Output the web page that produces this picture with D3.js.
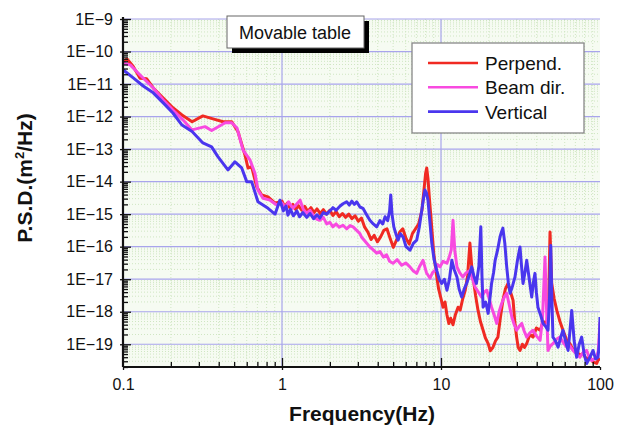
<!DOCTYPE html>
<html>
<head>
<meta charset="utf-8">
<script src="https://cdn.jsdelivr.net/npm/d3@7"></script>
<style>
  body { margin: 0; background: #fff; }
  svg text { font-family: "Liberation Sans", Arial, sans-serif; fill: #111; }
</style>
</head>
<body>
<div id="chart"></div>
<script>
// Chart params
var svgWidth = 627;
var svgHeight = 429;

var margin = { top: 19, right: 27, bottom: 62, left: 123 };
var width = svgWidth - margin.left - margin.right;
var height = svgHeight - margin.top - margin.bottom;

// Data: [frequency (Hz), log10 PSD (m^2/Hz)]
var perpData = [
  [0.100, -10.31], [0.106, -10.23], [0.116, -10.46], [0.128, -10.82], [0.141, -10.84], [0.155, -11.12], [0.179, -11.43],
  [0.206, -11.73], [0.235, -11.95], [0.272, -12.16], [0.318, -11.98], [0.368, -12.07], [0.426, -12.16], [0.483, -12.16],
  [0.528, -12.46], [0.585, -13.18], [0.611, -13.58], [0.644, -13.54], [0.693, -14.16], [0.745, -14.41], [0.817, -14.47],
  [0.904, -14.66], [1.00, -14.60], [1.04, -14.78], [1.08, -14.66], [1.12, -14.80], [1.17, -14.70], [1.22, -14.86],
  [1.27, -14.74], [1.33, -14.88], [1.39, -14.76], [1.45, -14.92], [1.52, -14.80], [1.59, -14.95], [1.66, -14.84],
  [1.74, -14.98], [1.82, -14.86], [1.90, -15.00], [2.00, -14.88], [2.09, -15.04], [2.19, -14.92], [2.29, -15.08],
  [2.40, -14.98], [2.51, -15.10], [2.63, -15.00], [2.75, -15.14], [2.88, -15.05], [3.02, -15.22], [3.16, -15.12],
  [3.31, -15.40], [3.47, -15.55], [3.63, -15.78], [3.80, -15.65], [3.98, -15.85], [4.17, -15.70], [4.37, -15.50],
  [4.57, -15.45], [4.79, -15.75], [5.01, -16.02], [5.25, -15.80], [5.50, -15.55], [5.75, -15.45], [6.03, -15.75],
  [6.31, -15.92], [6.61, -15.60], [6.92, -15.45], [7.24, -15.30], [7.59, -14.88], [7.80, -14.30], [8.00, -13.75],
  [8.13, -13.58], [8.28, -13.90], [8.45, -14.50], [8.71, -15.30], [9.00, -16.20], [9.33, -16.80], [9.66, -17.30],
  [10.0, -17.60], [10.3, -17.86], [10.6, -17.70], [10.9, -18.10], [11.2, -18.36], [11.5, -18.20], [11.9, -18.40],
  [12.3, -18.10], [12.8, -17.86], [13.2, -17.95], [13.7, -17.60], [14.2, -17.34], [14.7, -16.90], [15.2, -15.89],
  [15.6, -16.60], [15.9, -16.93], [16.5, -17.50], [17.1, -17.96], [17.7, -18.30], [18.4, -18.57], [19.0, -18.80],
  [19.8, -18.98], [20.4, -19.20], [21.2, -19.10], [22.0, -18.90], [22.8, -18.78], [23.6, -18.20], [24.5, -17.65],
  [25.4, -17.30], [26.4, -17.13], [27.4, -17.40], [28.4, -17.65], [29.1, -18.30], [29.9, -18.78], [30.6, -19.10],
  [31.4, -19.19], [32.5, -19.00], [33.5, -19.10], [34.6, -18.98], [36.2, -18.70], [37.9, -18.78], [39.8, -18.50],
  [42.0, -18.57], [44.0, -18.30], [46.2, -18.36], [47.5, -17.80], [48.5, -15.55], [49.7, -17.13], [51.5, -17.60],
  [53.5, -17.96], [56.0, -18.30], [58.5, -18.57], [61.5, -18.85], [64.7, -18.98], [67.5, -19.15], [71.3, -19.19],
  [74.5, -19.35], [78.2, -19.28], [82.0, -19.45], [86.5, -19.40], [90.5, -19.55], [95.3, -19.59], [98.0, -19.45],
  [100, -19.50]
];

var beamData = [
  [0.100, -10.35], [0.111, -10.41], [0.128, -10.72], [0.155, -11.12], [0.179, -11.49], [0.206, -11.80], [0.238, -12.10],
  [0.272, -12.41], [0.328, -12.31], [0.361, -12.43], [0.395, -12.32], [0.439, -12.19], [0.483, -12.19], [0.521, -12.35],
  [0.569, -13.03], [0.630, -13.34], [0.676, -13.74], [0.706, -14.26], [0.760, -14.51], [0.841, -14.57], [0.927, -14.72],
  [1.00, -14.66], [1.05, -14.80], [1.10, -14.62], [1.17, -14.82], [1.23, -14.70], [1.30, -14.57], [1.36, -14.85],
  [1.43, -14.97], [1.50, -14.88], [1.58, -15.05], [1.65, -15.15], [1.73, -15.19], [1.82, -15.10], [1.91, -15.30],
  [2.00, -15.25], [2.09, -15.39], [2.19, -15.30], [2.29, -15.40], [2.42, -15.34], [2.55, -15.45], [2.68, -15.35],
  [2.80, -15.39], [2.95, -15.50], [3.09, -15.60], [3.16, -15.70], [3.35, -15.85], [3.57, -16.01], [3.75, -16.10],
  [3.94, -16.20], [4.13, -16.15], [4.35, -16.32], [4.55, -16.25], [4.75, -16.45], [4.99, -16.51], [5.30, -16.40],
  [5.66, -16.57], [6.00, -16.50], [6.38, -16.62], [6.70, -16.75], [7.03, -16.82], [7.35, -16.60], [7.71, -16.42],
  [8.10, -16.80], [8.53, -16.97], [8.85, -16.80], [9.16, -16.73], [9.50, -16.55], [9.86, -16.62], [10.3, -16.45],
  [10.9, -16.51], [11.3, -16.30], [11.6, -16.10], [11.9, -15.19], [12.2, -16.10], [12.6, -16.62], [13.1, -16.80],
  [13.7, -16.93], [14.4, -16.80], [15.2, -16.73], [15.8, -17.00], [16.4, -17.24], [17.2, -17.40], [18.0, -17.55],
  [18.7, -17.40], [19.4, -17.34], [20.1, -17.60], [20.8, -17.86], [21.6, -18.10], [22.4, -18.36], [23.2, -18.00],
  [24.1, -17.74], [25.0, -17.55], [25.9, -17.43], [26.9, -17.80], [27.9, -18.16], [28.9, -18.40], [29.9, -18.57],
  [31.0, -18.45], [32.2, -18.36], [33.4, -18.60], [34.6, -18.78], [36.2, -18.65], [37.9, -18.57], [39.9, -18.75],
  [42.0, -18.88], [43.5, -18.20], [44.5, -17.00], [45.1, -16.32], [45.8, -17.50], [47.1, -19.19], [48.8, -19.05],
  [50.6, -18.98], [53.2, -18.85], [56.0, -18.78], [58.8, -18.95], [61.8, -19.09], [64.6, -19.05], [67.6, -19.19],
  [71.2, -19.30], [74.8, -19.40], [78.5, -19.25], [82.4, -19.19], [85.5, -19.40], [88.7, -19.50], [92.0, -19.45],
  [95.3, -19.40], [97.5, -19.20], [100, -18.32]
];

var vertData = [
  [0.100, -10.56], [0.116, -10.81], [0.134, -11.06], [0.155, -11.27], [0.179, -11.58], [0.206, -11.89], [0.235, -12.26],
  [0.272, -12.46], [0.318, -12.81], [0.361, -12.93], [0.395, -13.23], [0.457, -13.64], [0.506, -13.39], [0.558, -13.58],
  [0.600, -14.00], [0.644, -14.00], [0.706, -14.62], [0.817, -14.82], [0.904, -15.00], [0.970, -14.57], [1.02, -14.90],
  [1.06, -14.75], [1.09, -15.03], [1.13, -14.85], [1.18, -15.05], [1.24, -14.90], [1.29, -15.08], [1.35, -14.95],
  [1.43, -15.10], [1.50, -14.98], [1.58, -15.14], [1.66, -15.02], [1.73, -15.12], [1.82, -14.95], [1.91, -15.00],
  [2.00, -14.90], [2.09, -14.80], [2.19, -14.88], [2.32, -14.75], [2.42, -14.68], [2.55, -14.62], [2.65, -14.72],
  [2.75, -14.60], [2.85, -14.70], [2.95, -14.62], [3.09, -14.78], [3.23, -14.82], [3.39, -15.00], [3.57, -15.19],
  [3.75, -15.30], [3.94, -15.39], [4.13, -15.20], [4.30, -15.30], [4.45, -15.08], [4.62, -15.20], [4.75, -14.90],
  [4.83, -14.41], [4.92, -15.00], [5.05, -15.39], [5.20, -15.60], [5.37, -15.80], [5.55, -15.60], [5.77, -15.70],
  [6.03, -16.00], [6.38, -16.11], [6.70, -15.90], [7.03, -15.80], [7.30, -15.40], [7.57, -14.88], [7.80, -14.45],
  [7.93, -14.26], [8.10, -14.35], [8.28, -14.57], [8.50, -15.20], [8.75, -15.89], [9.05, -16.40], [9.40, -16.73],
  [9.75, -17.00], [10.1, -17.13], [10.5, -17.00], [10.9, -17.34], [11.3, -17.00], [11.7, -16.42], [12.1, -16.70],
  [12.6, -16.93], [13.0, -17.30], [13.5, -17.55], [14.0, -17.30], [14.5, -17.13], [15.0, -16.90], [15.6, -16.62],
  [16.1, -16.90], [16.7, -17.13], [17.3, -16.60], [17.8, -15.39], [18.1, -16.90], [18.4, -17.86], [19.1, -17.70],
  [19.8, -18.05], [20.3, -17.60], [20.8, -17.13], [21.4, -16.80], [21.9, -16.42], [22.7, -16.10], [23.5, -15.70],
  [24.0, -15.55], [24.5, -15.43], [25.2, -15.90], [25.9, -16.62], [26.5, -17.10], [27.2, -17.43], [28.2, -17.20],
  [29.2, -16.93], [30.3, -16.40], [31.4, -16.01], [32.1, -16.60], [32.8, -17.13], [33.7, -16.80], [34.6, -16.42],
  [35.9, -17.00], [37.2, -17.55], [38.1, -17.10], [39.0, -16.82], [39.8, -17.40], [40.7, -17.86], [42.3, -18.10],
  [43.9, -18.36], [45.5, -18.45], [47.1, -18.57], [48.2, -17.50], [49.0, -15.96], [49.8, -17.60], [50.6, -18.78],
  [52.5, -18.90], [54.5, -19.09], [56.5, -18.80], [58.5, -18.57], [60.7, -18.90], [63.0, -19.19], [64.7, -18.60],
  [66.4, -17.96], [68.8, -18.90], [71.3, -19.40], [74.0, -19.00], [76.7, -18.78], [79.5, -19.30], [82.4, -19.59],
  [86.4, -19.40], [90.4, -19.19], [93.7, -19.45], [97.1, -19.40], [99.0, -19.00], [100, -18.16]
];

var seriesNames = ["Perpend.", "Beam dir.", "Vertical"];
var seriesColors = ["#f02a22", "#f84ae0", "#4a36ee"];
var yMajorExp = [-9, -10, -11, -12, -13, -14, -15, -16, -17, -18, -19];
var xMajor = [0.1, 1, 10, 100];
var xLabels = ["0.1", "1", "10", "100"];

var series = [
  { name: seriesNames[0], color: seriesColors[0], data: perpData },
  { name: seriesNames[1], color: seriesColors[1], data: beamData },
  { name: seriesNames[2], color: seriesColors[2], data: vertData }
];

var svg = d3.select("#chart")
  .append("svg")
  .attr("width", svgWidth)
  .attr("height", svgHeight);

var chartGroup = svg.append("g")
  .attr("transform", `translate(${margin.left}, ${margin.top})`);

// Scales
var xLogScale = d3.scaleLog().domain([0.1, 100]).range([0, width]);
var yLogScale = d3.scaleLog().domain([2e-20, 1e-9]).range([height, 0]);

// minor positions
var xMinor = [];
[0.1, 1, 10].forEach(function(d) {
  for (var k = 2; k <= 9; k++) xMinor.push(d * k);
});
var yMinor = [];
for (var e = -20; e < -9; e++) {
  for (var k = 2; k <= 9; k++) {
    var val = k * Math.pow(10, e);
    if (val >= 2e-20) yMinor.push(val);
  }
}
var yMajor = yMajorExp.map(function(e) { return Math.pow(10, e); });

// background
chartGroup.append("rect")
  .attr("width", width)
  .attr("height", height)
  .attr("fill", "#f6fbf2");

// minor grid (dotted green)
chartGroup.selectAll(".xminor")
  .data(xMinor).enter().append("line")
  .attr("x1", d => xLogScale(d)).attr("x2", d => xLogScale(d))
  .attr("y1", 0).attr("y2", height)
  .attr("stroke", "#cfe6c2").attr("stroke-width", 1).attr("stroke-dasharray", "1,2");
chartGroup.selectAll(".yminor")
  .data(yMinor).enter().append("line")
  .attr("x1", 0).attr("x2", width)
  .attr("y1", d => yLogScale(d)).attr("y2", d => yLogScale(d))
  .attr("stroke", "#cfe6c2").attr("stroke-width", 1).attr("stroke-dasharray", "1,2");

// major grid
chartGroup.selectAll(".ymajor")
  .data(yMajor).enter().append("line")
  .attr("x1", 0).attr("x2", width)
  .attr("y1", d => yLogScale(d)).attr("y2", d => yLogScale(d))
  .attr("stroke", "#a8a4ec").attr("stroke-width", 1.2);
chartGroup.selectAll(".xmajor")
  .data([1, 10]).enter().append("line")
  .attr("x1", d => xLogScale(d)).attr("x2", d => xLogScale(d))
  .attr("y1", 0).attr("y2", height)
  .attr("stroke", "#a8a4ec").attr("stroke-width", 1.2);

// Lines
var line = d3.line()
  .x(d => xLogScale(d[0]))
  .y(d => yLogScale(Math.pow(10, d[1])));

chartGroup.append("defs").append("clipPath").attr("id", "clip")
  .append("rect").attr("width", width).attr("height", height);

var lineGroup = chartGroup.append("g").attr("clip-path", "url(#clip)");
series.forEach(function(s) {
  lineGroup.append("path")
    .datum(s.data)
    .attr("d", line)
    .attr("fill", "none")
    .attr("stroke", s.color)
    .attr("stroke-width", 3)
    .attr("stroke-linejoin", "round");
});

// Axes
var leftAxis = d3.axisLeft(yLogScale)
  .tickValues(yMajor)
  .tickSize(3)
  .tickPadding(7)
  .tickFormat(d => "1E\u2212" + Math.round(-Math.log10(d)));
var yAxisG = chartGroup.append("g").call(leftAxis);
yAxisG.selectAll("text").style("font-size", "16px");

chartGroup.append("g").call(d3.axisRight(yLogScale).tickValues(yMinor).tickSize(5).tickFormat(""));
chartGroup.append("g").call(d3.axisRight(yLogScale).tickValues(yMajor).tickSize(8).tickFormat(""));

var bottomAxis = d3.axisBottom(xLogScale)
  .tickValues(xMajor)
  .tickSize(3)
  .tickPadding(9)
  .tickFormat((d, i) => xLabels[i]);
var xAxisG = chartGroup.append("g")
  .attr("transform", `translate(0, ${height})`)
  .call(bottomAxis);
xAxisG.selectAll("text").style("font-size", "16px");

chartGroup.append("g")
  .attr("transform", `translate(0, ${height})`)
  .call(d3.axisTop(xLogScale).tickValues(xMinor).tickSize(5).tickFormat(""));
chartGroup.append("g")
  .attr("transform", `translate(0, ${height})`)
  .call(d3.axisTop(xLogScale).tickValues([1, 10]).tickSize(9).tickFormat(""));

chartGroup.selectAll(".domain").remove();
chartGroup.selectAll(".tick line").attr("stroke", "#111").attr("stroke-width", 1.3);

// axis lines
chartGroup.append("line")
  .attr("x1", 0).attr("x2", 0).attr("y1", -2).attr("y2", height)
  .attr("stroke", "#111").attr("stroke-width", 2.2);
chartGroup.append("line")
  .attr("x1", 0).attr("x2", width).attr("y1", height).attr("y2", height)
  .attr("stroke", "#111").attr("stroke-width", 2.2);

// axis titles
svg.append("text")
  .attr("x", 362)
  .attr("y", 421)
  .attr("text-anchor", "middle")
  .style("font-size", "21px")
  .style("font-weight", "bold")
  .text("Frequency(Hz)");

var yTitle = svg.append("text")
  .attr("transform", "translate(32, 178) rotate(-90)")
  .attr("text-anchor", "middle")
  .style("font-size", "21px")
  .style("font-weight", "bold");
yTitle.append("tspan").text("P.S.D.(m");
yTitle.append("tspan").attr("dy", -8).style("font-size", "13px").text("2");
yTitle.append("tspan").attr("dy", 8).text("/Hz)");

// "Movable table" label
svg.append("rect")
  .attr("x", 232).attr("y", 21).attr("width", 137).attr("height", 32)
  .attr("fill", "#000");
svg.append("rect")
  .attr("x", 227).attr("y", 16).attr("width", 137).attr("height", 32)
  .attr("fill", "#fff").attr("stroke", "#666").attr("stroke-width", 1);
svg.append("text")
  .attr("x", 239).attr("y", 39)
  .style("font-size", "18px")
  .text("Movable table");

// Legend
var legend = svg.append("g").attr("transform", "translate(412, 43)");
legend.append("rect")
  .attr("width", 172).attr("height", 90)
  .attr("fill", "#fff").attr("stroke", "#888").attr("stroke-width", 1.3);
series.forEach(function(s, i) {
  var ly = 20 + i * 24.3;
  legend.append("line")
    .attr("x1", 16).attr("x2", 66).attr("y1", ly).attr("y2", ly)
    .attr("stroke", s.color).attr("stroke-width", 2.6);
  legend.append("text")
    .attr("x", 73).attr("y", ly + 7)
    .style("font-size", "19px")
    .text(s.name);
});
</script>
</body>
</html>
